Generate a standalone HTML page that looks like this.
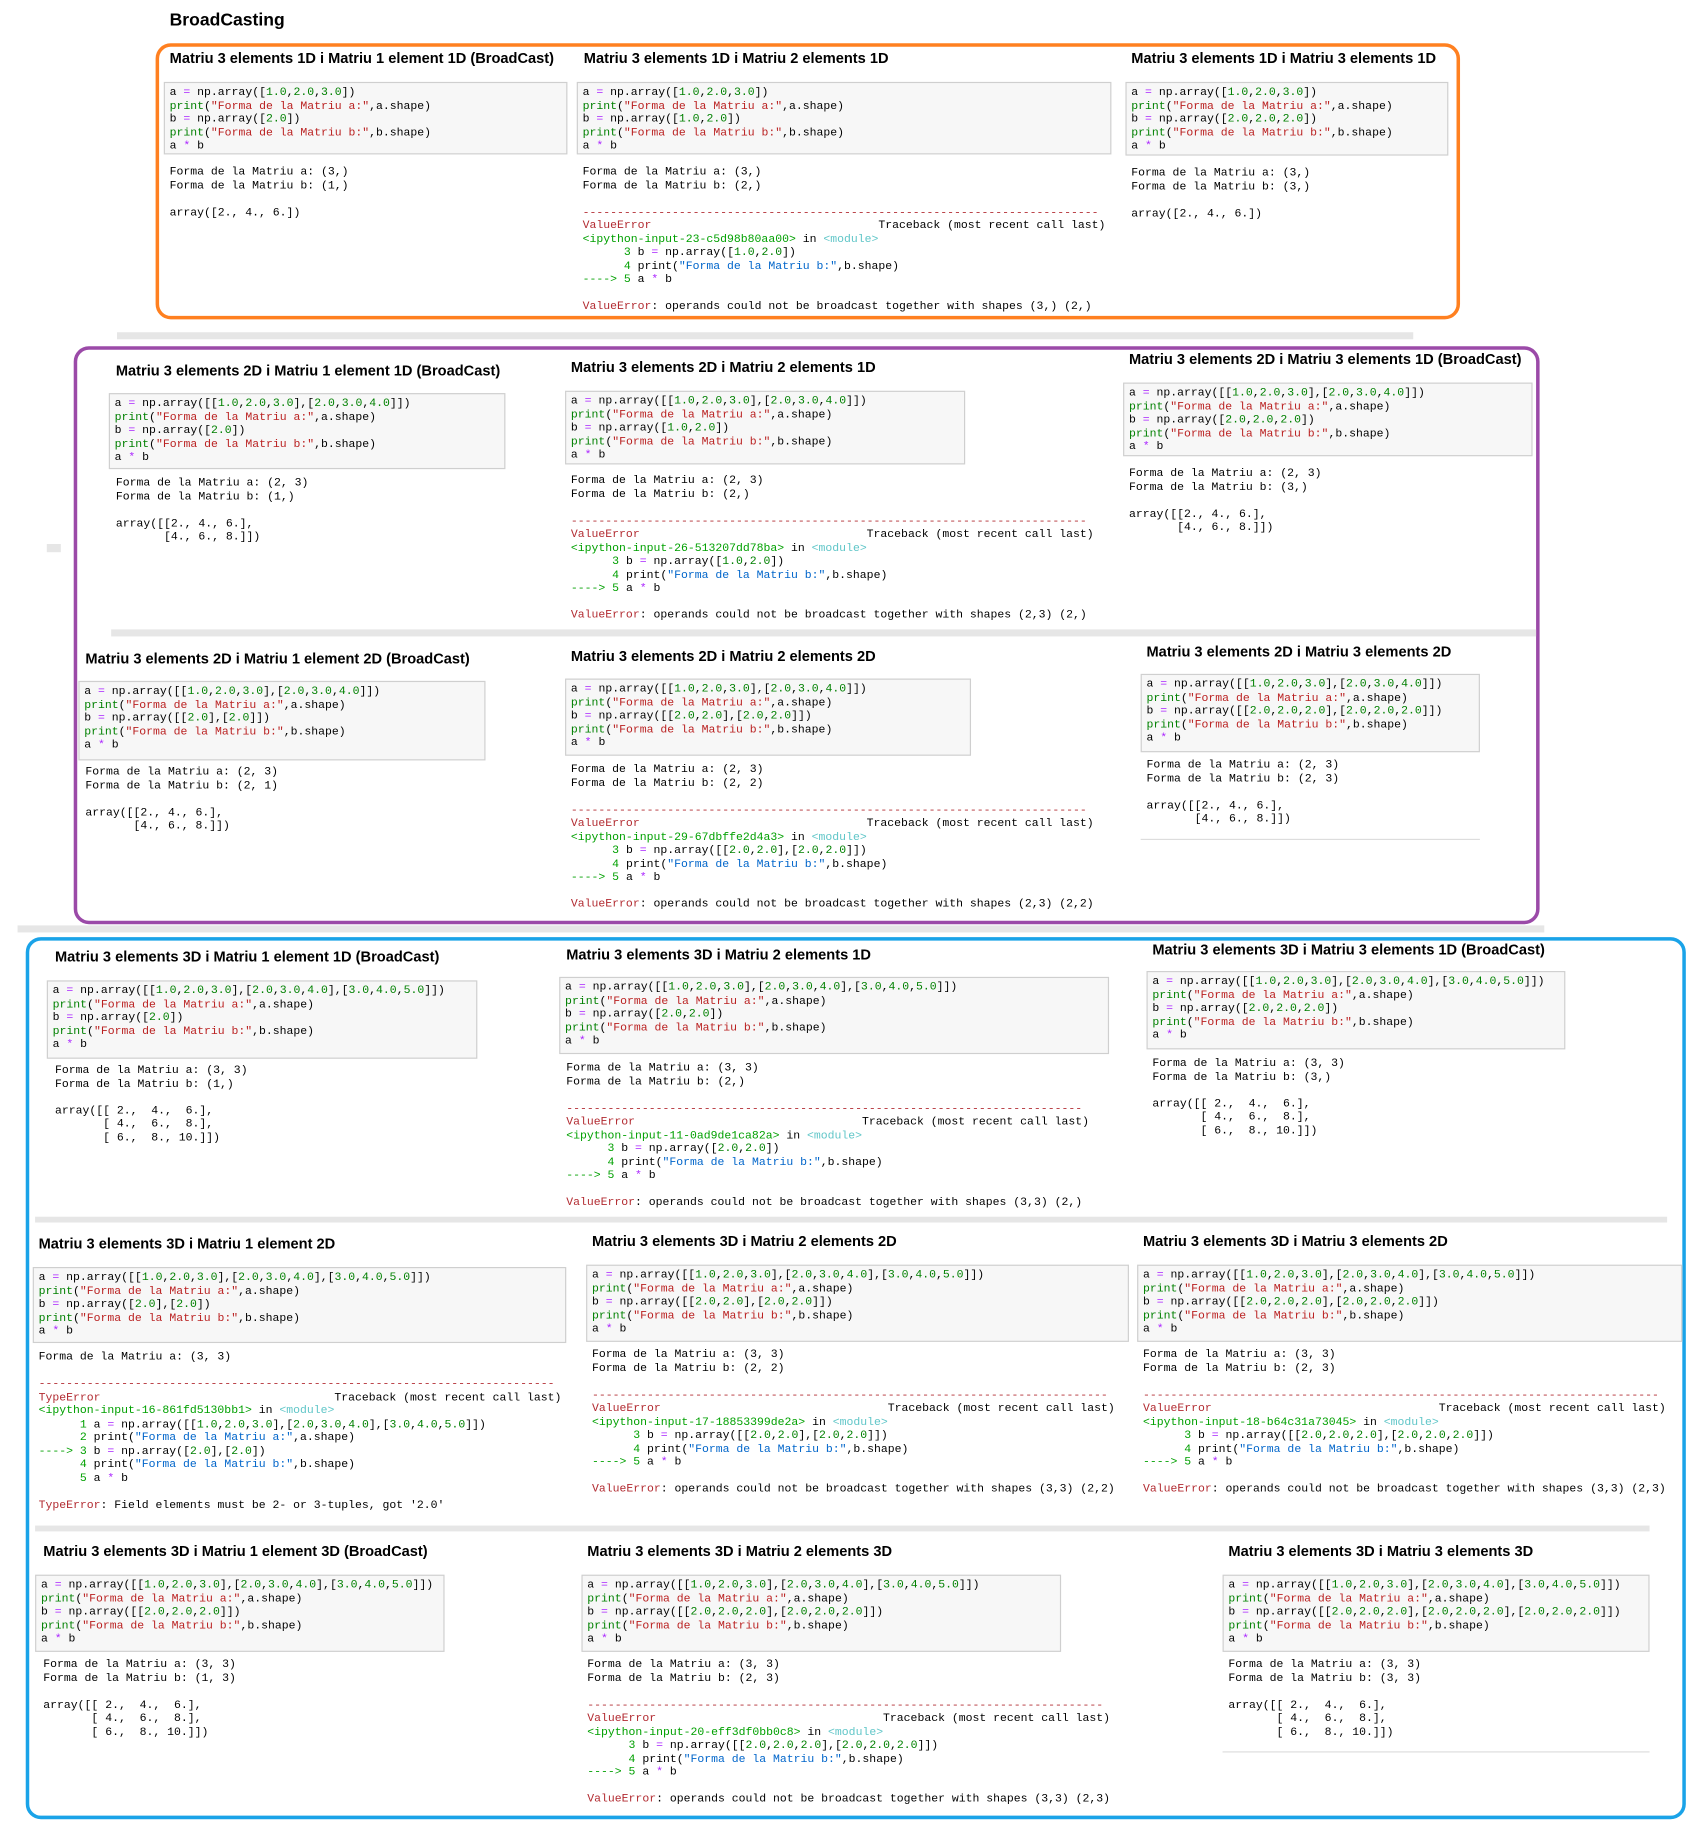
<!DOCTYPE html>
<html><head><meta charset="utf-8"><style>
html,body{margin:0;padding:0;background:#fff;width:1708px;height:1828px;overflow:hidden}
#w{position:absolute;left:0;top:0;width:1460px;height:1563px;transform:scale(1.1699);transform-origin:0 0}
#w div,#w pre{position:absolute;margin:0}
pre{font-family:"Liberation Mono",monospace;font-size:9.8px;line-height:11.55px;color:#000;white-space:pre}
.t{font-family:"Liberation Sans",sans-serif;font-weight:bold;font-size:12.5px;line-height:14px;white-space:nowrap;color:#000}
.c{background:#f7f7f7;border:1px solid #cfcfcf;box-sizing:border-box}
.c pre{left:4px;top:2px}
.o{color:#aa22ff}.n{color:#008000}.k{color:#008000}.s{color:#ba2121}.e{color:#b22b31}.g{color:#00a000}.m{color:#60c6c8}.b{color:#0065ca}
.sep{background:#e6e6e6}
.box{box-sizing:border-box;border-radius:13px}
</style></head><body><div id="w">

<div class="t" style="left:145px;top:9px;font-size:15px;line-height:18px">BroadCasting</div>

<div class="box" style="left:133px;top:37px;width:1115px;height:236px;border:3px solid #ff8020"></div>
<div class="sep" style="left:100px;top:284px;width:1108px;height:6px"></div>
<div class="box" style="left:63px;top:296px;width:1253px;height:494px;border:3px solid #9b4aa8"></div>
<div class="sep" style="left:95px;top:538px;width:1218px;height:6px"></div>
<div class="sep" style="left:40px;top:465px;width:12px;height:7px"></div>
<div class="sep" style="left:15px;top:791px;width:1305px;height:6px"></div>
<div class="box" style="left:22px;top:801px;width:1419px;height:754px;border:3px solid #1aa3e8"></div>
<div class="sep" style="left:30px;top:1040px;width:1395px;height:5px"></div>
<div class="sep" style="left:30px;top:1304px;width:1380px;height:5px"></div>

<!-- ROW 1 -->
<div class="t" style="left:145px;top:43px">Matriu 3 elements 1D i Matriu 1 element 1D (BroadCast)</div>
<div class="c" style="left:140px;top:70px;width:345px;height:62px"><pre>a <span class="o">=</span> np.array([<span class="n">1.0</span>,<span class="n">2.0</span>,<span class="n">3.0</span>])
<span class="k">print</span>(<span class="s">"Forma de la Matriu a:"</span>,a.shape)
b <span class="o">=</span> np.array([<span class="n">2.0</span>])
<span class="k">print</span>(<span class="s">"Forma de la Matriu b:"</span>,b.shape)
a <span class="o">*</span> b</pre></div>
<pre style="left:145px;top:141px">Forma de la Matriu a: (3,)
Forma de la Matriu b: (1,)

array([2., 4., 6.])</pre>

<div class="t" style="left:499px;top:43px">Matriu 3 elements 1D i Matriu 2 elements 1D</div>
<div class="c" style="left:493px;top:70px;width:457px;height:62px"><pre>a <span class="o">=</span> np.array([<span class="n">1.0</span>,<span class="n">2.0</span>,<span class="n">3.0</span>])
<span class="k">print</span>(<span class="s">"Forma de la Matriu a:"</span>,a.shape)
b <span class="o">=</span> np.array([<span class="n">1.0</span>,<span class="n">2.0</span>])
<span class="k">print</span>(<span class="s">"Forma de la Matriu b:"</span>,b.shape)
a <span class="o">*</span> b</pre></div>
<pre style="left:498px;top:141px">Forma de la Matriu a: (3,)
Forma de la Matriu b: (2,)

<span class="e">---------------------------------------------------------------------------</span>
<span class="e">ValueError</span>                                 Traceback (most recent call last)
<span class="g">&lt;ipython-input-23-c5d98b80aa00&gt;</span> in <span class="m">&lt;module&gt;</span>
<span class="g">      3</span> b <span class="o">=</span> np.array([<span class="n">1.0</span>,<span class="n">2.0</span>])
<span class="g">      4</span> print(<span class="b">"Forma de la Matriu b:"</span>,b.shape)
<span class="g">----&gt; 5</span> a <span class="o">*</span> b

<span class="e">ValueError</span>: operands could not be broadcast together with shapes (3,) (2,) </pre>

<div class="t" style="left:967px;top:43px">Matriu 3 elements 1D i Matriu 3 elements 1D</div>
<div class="c" style="left:962px;top:70px;width:276px;height:63px"><pre>a <span class="o">=</span> np.array([<span class="n">1.0</span>,<span class="n">2.0</span>,<span class="n">3.0</span>])
<span class="k">print</span>(<span class="s">"Forma de la Matriu a:"</span>,a.shape)
b <span class="o">=</span> np.array([<span class="n">2.0</span>,<span class="n">2.0</span>,<span class="n">2.0</span>])
<span class="k">print</span>(<span class="s">"Forma de la Matriu b:"</span>,b.shape)
a <span class="o">*</span> b</pre></div>
<pre style="left:967px;top:142px">Forma de la Matriu a: (3,)
Forma de la Matriu b: (3,)

array([2., 4., 6.])</pre>

<!-- ROW 2 -->
<div class="t" style="left:99px;top:310px">Matriu 3 elements 2D i Matriu 1 element 1D (BroadCast)</div>
<div class="c" style="left:93px;top:336px;width:339px;height:65px"><pre>a <span class="o">=</span> np.array([[<span class="n">1.0</span>,<span class="n">2.0</span>,<span class="n">3.0</span>],[<span class="n">2.0</span>,<span class="n">3.0</span>,<span class="n">4.0</span>]])
<span class="k">print</span>(<span class="s">"Forma de la Matriu a:"</span>,a.shape)
b <span class="o">=</span> np.array([<span class="n">2.0</span>])
<span class="k">print</span>(<span class="s">"Forma de la Matriu b:"</span>,b.shape)
a <span class="o">*</span> b</pre></div>
<pre style="left:99px;top:407px">Forma de la Matriu a: (2, 3)
Forma de la Matriu b: (1,)

array([[2., 4., 6.],
       [4., 6., 8.]])</pre>

<div class="t" style="left:488px;top:307px">Matriu 3 elements 2D i Matriu 2 elements 1D</div>
<div class="c" style="left:483px;top:334px;width:342px;height:63px"><pre>a <span class="o">=</span> np.array([[<span class="n">1.0</span>,<span class="n">2.0</span>,<span class="n">3.0</span>],[<span class="n">2.0</span>,<span class="n">3.0</span>,<span class="n">4.0</span>]])
<span class="k">print</span>(<span class="s">"Forma de la Matriu a:"</span>,a.shape)
b <span class="o">=</span> np.array([<span class="n">1.0</span>,<span class="n">2.0</span>])
<span class="k">print</span>(<span class="s">"Forma de la Matriu b:"</span>,b.shape)
a <span class="o">*</span> b</pre></div>
<pre style="left:488px;top:405px">Forma de la Matriu a: (2, 3)
Forma de la Matriu b: (2,)

<span class="e">---------------------------------------------------------------------------</span>
<span class="e">ValueError</span>                                 Traceback (most recent call last)
<span class="g">&lt;ipython-input-26-513207dd78ba&gt;</span> in <span class="m">&lt;module&gt;</span>
<span class="g">      3</span> b <span class="o">=</span> np.array([<span class="n">1.0</span>,<span class="n">2.0</span>])
<span class="g">      4</span> print(<span class="b">"Forma de la Matriu b:"</span>,b.shape)
<span class="g">----&gt; 5</span> a <span class="o">*</span> b

<span class="e">ValueError</span>: operands could not be broadcast together with shapes (2,3) (2,) </pre>

<div class="t" style="left:965px;top:300px">Matriu 3 elements 2D i Matriu 3 elements 1D (BroadCast)</div>
<div class="c" style="left:960px;top:327px;width:350px;height:63px"><pre>a <span class="o">=</span> np.array([[<span class="n">1.0</span>,<span class="n">2.0</span>,<span class="n">3.0</span>],[<span class="n">2.0</span>,<span class="n">3.0</span>,<span class="n">4.0</span>]])
<span class="k">print</span>(<span class="s">"Forma de la Matriu a:"</span>,a.shape)
b <span class="o">=</span> np.array([<span class="n">2.0</span>,<span class="n">2.0</span>,<span class="n">2.0</span>])
<span class="k">print</span>(<span class="s">"Forma de la Matriu b:"</span>,b.shape)
a <span class="o">*</span> b</pre></div>
<pre style="left:965px;top:399px">Forma de la Matriu a: (2, 3)
Forma de la Matriu b: (3,)

array([[2., 4., 6.],
       [4., 6., 8.]])</pre>

<!-- ROW 3 -->
<div class="t" style="left:73px;top:556px">Matriu 3 elements 2D i Matriu 1 element 2D (BroadCast)</div>
<div class="c" style="left:67px;top:582px;width:348px;height:68px"><pre>a <span class="o">=</span> np.array([[<span class="n">1.0</span>,<span class="n">2.0</span>,<span class="n">3.0</span>],[<span class="n">2.0</span>,<span class="n">3.0</span>,<span class="n">4.0</span>]])
<span class="k">print</span>(<span class="s">"Forma de la Matriu a:"</span>,a.shape)
b <span class="o">=</span> np.array([[<span class="n">2.0</span>],[<span class="n">2.0</span>]])
<span class="k">print</span>(<span class="s">"Forma de la Matriu b:"</span>,b.shape)
a <span class="o">*</span> b</pre></div>
<pre style="left:73px;top:654px">Forma de la Matriu a: (2, 3)
Forma de la Matriu b: (2, 1)

array([[2., 4., 6.],
       [4., 6., 8.]])</pre>

<div class="t" style="left:488px;top:554px">Matriu 3 elements 2D i Matriu 2 elements 2D</div>
<div class="c" style="left:483px;top:580px;width:347px;height:66px"><pre>a <span class="o">=</span> np.array([[<span class="n">1.0</span>,<span class="n">2.0</span>,<span class="n">3.0</span>],[<span class="n">2.0</span>,<span class="n">3.0</span>,<span class="n">4.0</span>]])
<span class="k">print</span>(<span class="s">"Forma de la Matriu a:"</span>,a.shape)
b <span class="o">=</span> np.array([[<span class="n">2.0</span>,<span class="n">2.0</span>],[<span class="n">2.0</span>,<span class="n">2.0</span>]])
<span class="k">print</span>(<span class="s">"Forma de la Matriu b:"</span>,b.shape)
a <span class="o">*</span> b</pre></div>
<pre style="left:488px;top:652px">Forma de la Matriu a: (2, 3)
Forma de la Matriu b: (2, 2)

<span class="e">---------------------------------------------------------------------------</span>
<span class="e">ValueError</span>                                 Traceback (most recent call last)
<span class="g">&lt;ipython-input-29-67dbffe2d4a3&gt;</span> in <span class="m">&lt;module&gt;</span>
<span class="g">      3</span> b <span class="o">=</span> np.array([[<span class="n">2.0</span>,<span class="n">2.0</span>],[<span class="n">2.0</span>,<span class="n">2.0</span>]])
<span class="g">      4</span> print(<span class="b">"Forma de la Matriu b:"</span>,b.shape)
<span class="g">----&gt; 5</span> a <span class="o">*</span> b

<span class="e">ValueError</span>: operands could not be broadcast together with shapes (2,3) (2,2) </pre>

<div class="t" style="left:980px;top:550px">Matriu 3 elements 2D i Matriu 3 elements 2D</div>
<div class="c" style="left:975px;top:576px;width:290px;height:67px"><pre>a <span class="o">=</span> np.array([[<span class="n">1.0</span>,<span class="n">2.0</span>,<span class="n">3.0</span>],[<span class="n">2.0</span>,<span class="n">3.0</span>,<span class="n">4.0</span>]])
<span class="k">print</span>(<span class="s">"Forma de la Matriu a:"</span>,a.shape)
b <span class="o">=</span> np.array([[<span class="n">2.0</span>,<span class="n">2.0</span>,<span class="n">2.0</span>],[<span class="n">2.0</span>,<span class="n">2.0</span>,<span class="n">2.0</span>]])
<span class="k">print</span>(<span class="s">"Forma de la Matriu b:"</span>,b.shape)
a <span class="o">*</span> b</pre></div>
<pre style="left:980px;top:648px">Forma de la Matriu a: (2, 3)
Forma de la Matriu b: (2, 3)

array([[2., 4., 6.],
       [4., 6., 8.]])</pre>
<div style="left:975px;top:717px;width:290px;height:1px;background:#ddd"></div>

<!-- BLUE ROW 1 -->
<div class="t" style="left:47px;top:811px">Matriu 3 elements 3D i Matriu 1 element 1D (BroadCast)</div>
<div class="c" style="left:40px;top:838px;width:368px;height:67px"><pre>a <span class="o">=</span> np.array([[<span class="n">1.0</span>,<span class="n">2.0</span>,<span class="n">3.0</span>],[<span class="n">2.0</span>,<span class="n">3.0</span>,<span class="n">4.0</span>],[<span class="n">3.0</span>,<span class="n">4.0</span>,<span class="n">5.0</span>]])
<span class="k">print</span>(<span class="s">"Forma de la Matriu a:"</span>,a.shape)
b <span class="o">=</span> np.array([<span class="n">2.0</span>])
<span class="k">print</span>(<span class="s">"Forma de la Matriu b:"</span>,b.shape)
a <span class="o">*</span> b</pre></div>
<pre style="left:47px;top:909px">Forma de la Matriu a: (3, 3)
Forma de la Matriu b: (1,)

array([[ 2.,  4.,  6.],
       [ 4.,  6.,  8.],
       [ 6.,  8., 10.]])</pre>

<div class="t" style="left:484px;top:809px">Matriu 3 elements 3D i Matriu 2 elements 1D</div>
<div class="c" style="left:478px;top:835px;width:470px;height:66px"><pre>a <span class="o">=</span> np.array([[<span class="n">1.0</span>,<span class="n">2.0</span>,<span class="n">3.0</span>],[<span class="n">2.0</span>,<span class="n">3.0</span>,<span class="n">4.0</span>],[<span class="n">3.0</span>,<span class="n">4.0</span>,<span class="n">5.0</span>]])
<span class="k">print</span>(<span class="s">"Forma de la Matriu a:"</span>,a.shape)
b <span class="o">=</span> np.array([<span class="n">2.0</span>,<span class="n">2.0</span>])
<span class="k">print</span>(<span class="s">"Forma de la Matriu b:"</span>,b.shape)
a <span class="o">*</span> b</pre></div>
<pre style="left:484px;top:907px">Forma de la Matriu a: (3, 3)
Forma de la Matriu b: (2,)

<span class="e">---------------------------------------------------------------------------</span>
<span class="e">ValueError</span>                                 Traceback (most recent call last)
<span class="g">&lt;ipython-input-11-0ad9de1ca82a&gt;</span> in <span class="m">&lt;module&gt;</span>
<span class="g">      3</span> b <span class="o">=</span> np.array([<span class="n">2.0</span>,<span class="n">2.0</span>])
<span class="g">      4</span> print(<span class="b">"Forma de la Matriu b:"</span>,b.shape)
<span class="g">----&gt; 5</span> a <span class="o">*</span> b

<span class="e">ValueError</span>: operands could not be broadcast together with shapes (3,3) (2,) </pre>

<div class="t" style="left:985px;top:805px">Matriu 3 elements 3D i Matriu 3 elements 1D (BroadCast)</div>
<div class="c" style="left:980px;top:830px;width:358px;height:67px"><pre>a <span class="o">=</span> np.array([[<span class="n">1.0</span>,<span class="n">2.0</span>,<span class="n">3.0</span>],[<span class="n">2.0</span>,<span class="n">3.0</span>,<span class="n">4.0</span>],[<span class="n">3.0</span>,<span class="n">4.0</span>,<span class="n">5.0</span>]])
<span class="k">print</span>(<span class="s">"Forma de la Matriu a:"</span>,a.shape)
b <span class="o">=</span> np.array([<span class="n">2.0</span>,<span class="n">2.0</span>,<span class="n">2.0</span>])
<span class="k">print</span>(<span class="s">"Forma de la Matriu b:"</span>,b.shape)
a <span class="o">*</span> b</pre></div>
<pre style="left:985px;top:903px">Forma de la Matriu a: (3, 3)
Forma de la Matriu b: (3,)

array([[ 2.,  4.,  6.],
       [ 4.,  6.,  8.],
       [ 6.,  8., 10.]])</pre>

<!-- BLUE ROW 2 -->
<div class="t" style="left:33px;top:1056px">Matriu 3 elements 3D i Matriu 1 element 2D</div>
<div class="c" style="left:28px;top:1083px;width:456px;height:65px"><pre>a <span class="o">=</span> np.array([[<span class="n">1.0</span>,<span class="n">2.0</span>,<span class="n">3.0</span>],[<span class="n">2.0</span>,<span class="n">3.0</span>,<span class="n">4.0</span>],[<span class="n">3.0</span>,<span class="n">4.0</span>,<span class="n">5.0</span>]])
<span class="k">print</span>(<span class="s">"Forma de la Matriu a:"</span>,a.shape)
b <span class="o">=</span> np.array([<span class="n">2.0</span>],[<span class="n">2.0</span>])
<span class="k">print</span>(<span class="s">"Forma de la Matriu b:"</span>,b.shape)
a <span class="o">*</span> b</pre></div>
<pre style="left:33px;top:1154px">Forma de la Matriu a: (3, 3)

<span class="e">---------------------------------------------------------------------------</span>
<span class="e">TypeError</span>                                  Traceback (most recent call last)
<span class="g">&lt;ipython-input-16-861fd5130bb1&gt;</span> in <span class="m">&lt;module&gt;</span>
<span class="g">      1</span> a <span class="o">=</span> np.array([[<span class="n">1.0</span>,<span class="n">2.0</span>,<span class="n">3.0</span>],[<span class="n">2.0</span>,<span class="n">3.0</span>,<span class="n">4.0</span>],[<span class="n">3.0</span>,<span class="n">4.0</span>,<span class="n">5.0</span>]])
<span class="g">      2</span> print(<span class="b">"Forma de la Matriu a:"</span>,a.shape)
<span class="g">----&gt; 3</span> b <span class="o">=</span> np.array([<span class="n">2.0</span>],[<span class="n">2.0</span>])
<span class="g">      4</span> print(<span class="b">"Forma de la Matriu b:"</span>,b.shape)
<span class="g">      5</span> a <span class="o">*</span> b

<span class="e">TypeError</span>: Field elements must be 2- or 3-tuples, got '2.0'</pre>

<div class="t" style="left:506px;top:1054px">Matriu 3 elements 3D i Matriu 2 elements 2D</div>
<div class="c" style="left:501px;top:1081px;width:464px;height:66px"><pre>a <span class="o">=</span> np.array([[<span class="n">1.0</span>,<span class="n">2.0</span>,<span class="n">3.0</span>],[<span class="n">2.0</span>,<span class="n">3.0</span>,<span class="n">4.0</span>],[<span class="n">3.0</span>,<span class="n">4.0</span>,<span class="n">5.0</span>]])
<span class="k">print</span>(<span class="s">"Forma de la Matriu a:"</span>,a.shape)
b <span class="o">=</span> np.array([[<span class="n">2.0</span>,<span class="n">2.0</span>],[<span class="n">2.0</span>,<span class="n">2.0</span>]])
<span class="k">print</span>(<span class="s">"Forma de la Matriu b:"</span>,b.shape)
a <span class="o">*</span> b</pre></div>
<pre style="left:506px;top:1152px">Forma de la Matriu a: (3, 3)
Forma de la Matriu b: (2, 2)

<span class="e">---------------------------------------------------------------------------</span>
<span class="e">ValueError</span>                                 Traceback (most recent call last)
<span class="g">&lt;ipython-input-17-18853399de2a&gt;</span> in <span class="m">&lt;module&gt;</span>
<span class="g">      3</span> b <span class="o">=</span> np.array([[<span class="n">2.0</span>,<span class="n">2.0</span>],[<span class="n">2.0</span>,<span class="n">2.0</span>]])
<span class="g">      4</span> print(<span class="b">"Forma de la Matriu b:"</span>,b.shape)
<span class="g">----&gt; 5</span> a <span class="o">*</span> b

<span class="e">ValueError</span>: operands could not be broadcast together with shapes (3,3) (2,2) </pre>

<div class="t" style="left:977px;top:1054px">Matriu 3 elements 3D i Matriu 3 elements 2D</div>
<div class="c" style="left:972px;top:1081px;width:466px;height:66px"><pre>a <span class="o">=</span> np.array([[<span class="n">1.0</span>,<span class="n">2.0</span>,<span class="n">3.0</span>],[<span class="n">2.0</span>,<span class="n">3.0</span>,<span class="n">4.0</span>],[<span class="n">3.0</span>,<span class="n">4.0</span>,<span class="n">5.0</span>]])
<span class="k">print</span>(<span class="s">"Forma de la Matriu a:"</span>,a.shape)
b <span class="o">=</span> np.array([[<span class="n">2.0</span>,<span class="n">2.0</span>,<span class="n">2.0</span>],[<span class="n">2.0</span>,<span class="n">2.0</span>,<span class="n">2.0</span>]])
<span class="k">print</span>(<span class="s">"Forma de la Matriu b:"</span>,b.shape)
a <span class="o">*</span> b</pre></div>
<pre style="left:977px;top:1152px">Forma de la Matriu a: (3, 3)
Forma de la Matriu b: (2, 3)

<span class="e">---------------------------------------------------------------------------</span>
<span class="e">ValueError</span>                                 Traceback (most recent call last)
<span class="g">&lt;ipython-input-18-b64c31a73045&gt;</span> in <span class="m">&lt;module&gt;</span>
<span class="g">      3</span> b <span class="o">=</span> np.array([[<span class="n">2.0</span>,<span class="n">2.0</span>,<span class="n">2.0</span>],[<span class="n">2.0</span>,<span class="n">2.0</span>,<span class="n">2.0</span>]])
<span class="g">      4</span> print(<span class="b">"Forma de la Matriu b:"</span>,b.shape)
<span class="g">----&gt; 5</span> a <span class="o">*</span> b

<span class="e">ValueError</span>: operands could not be broadcast together with shapes (3,3) (2,3) </pre>

<!-- BLUE ROW 3 -->
<div class="t" style="left:37px;top:1319px">Matriu 3 elements 3D i Matriu 1 element 3D (BroadCast)</div>
<div class="c" style="left:30px;top:1346px;width:350px;height:66px"><pre>a <span class="o">=</span> np.array([[<span class="n">1.0</span>,<span class="n">2.0</span>,<span class="n">3.0</span>],[<span class="n">2.0</span>,<span class="n">3.0</span>,<span class="n">4.0</span>],[<span class="n">3.0</span>,<span class="n">4.0</span>,<span class="n">5.0</span>]])
<span class="k">print</span>(<span class="s">"Forma de la Matriu a:"</span>,a.shape)
b <span class="o">=</span> np.array([[<span class="n">2.0</span>,<span class="n">2.0</span>,<span class="n">2.0</span>]])
<span class="k">print</span>(<span class="s">"Forma de la Matriu b:"</span>,b.shape)
a <span class="o">*</span> b</pre></div>
<pre style="left:37px;top:1417px">Forma de la Matriu a: (3, 3)
Forma de la Matriu b: (1, 3)

array([[ 2.,  4.,  6.],
       [ 4.,  6.,  8.],
       [ 6.,  8., 10.]])</pre>

<div class="t" style="left:502px;top:1319px">Matriu 3 elements 3D i Matriu 2 elements 3D</div>
<div class="c" style="left:497px;top:1346px;width:410px;height:66px"><pre>a <span class="o">=</span> np.array([[<span class="n">1.0</span>,<span class="n">2.0</span>,<span class="n">3.0</span>],[<span class="n">2.0</span>,<span class="n">3.0</span>,<span class="n">4.0</span>],[<span class="n">3.0</span>,<span class="n">4.0</span>,<span class="n">5.0</span>]])
<span class="k">print</span>(<span class="s">"Forma de la Matriu a:"</span>,a.shape)
b <span class="o">=</span> np.array([[<span class="n">2.0</span>,<span class="n">2.0</span>,<span class="n">2.0</span>],[<span class="n">2.0</span>,<span class="n">2.0</span>,<span class="n">2.0</span>]])
<span class="k">print</span>(<span class="s">"Forma de la Matriu b:"</span>,b.shape)
a <span class="o">*</span> b</pre></div>
<pre style="left:502px;top:1417px">Forma de la Matriu a: (3, 3)
Forma de la Matriu b: (2, 3)

<span class="e">---------------------------------------------------------------------------</span>
<span class="e">ValueError</span>                                 Traceback (most recent call last)
<span class="g">&lt;ipython-input-20-eff3df0bb0c8&gt;</span> in <span class="m">&lt;module&gt;</span>
<span class="g">      3</span> b <span class="o">=</span> np.array([[<span class="n">2.0</span>,<span class="n">2.0</span>,<span class="n">2.0</span>],[<span class="n">2.0</span>,<span class="n">2.0</span>,<span class="n">2.0</span>]])
<span class="g">      4</span> print(<span class="b">"Forma de la Matriu b:"</span>,b.shape)
<span class="g">----&gt; 5</span> a <span class="o">*</span> b

<span class="e">ValueError</span>: operands could not be broadcast together with shapes (3,3) (2,3) </pre>

<div class="t" style="left:1050px;top:1319px">Matriu 3 elements 3D i Matriu 3 elements 3D</div>
<div class="c" style="left:1045px;top:1346px;width:365px;height:66px"><pre>a <span class="o">=</span> np.array([[<span class="n">1.0</span>,<span class="n">2.0</span>,<span class="n">3.0</span>],[<span class="n">2.0</span>,<span class="n">3.0</span>,<span class="n">4.0</span>],[<span class="n">3.0</span>,<span class="n">4.0</span>,<span class="n">5.0</span>]])
<span class="k">print</span>(<span class="s">"Forma de la Matriu a:"</span>,a.shape)
b <span class="o">=</span> np.array([[<span class="n">2.0</span>,<span class="n">2.0</span>,<span class="n">2.0</span>],[<span class="n">2.0</span>,<span class="n">2.0</span>,<span class="n">2.0</span>],[<span class="n">2.0</span>,<span class="n">2.0</span>,<span class="n">2.0</span>]])
<span class="k">print</span>(<span class="s">"Forma de la Matriu b:"</span>,b.shape)
a <span class="o">*</span> b</pre></div>
<pre style="left:1050px;top:1417px">Forma de la Matriu a: (3, 3)
Forma de la Matriu b: (3, 3)

array([[ 2.,  4.,  6.],
       [ 4.,  6.,  8.],
       [ 6.,  8., 10.]])</pre>
<div style="left:1045px;top:1497px;width:365px;height:1px;background:#ddd"></div>

</div></body></html>
